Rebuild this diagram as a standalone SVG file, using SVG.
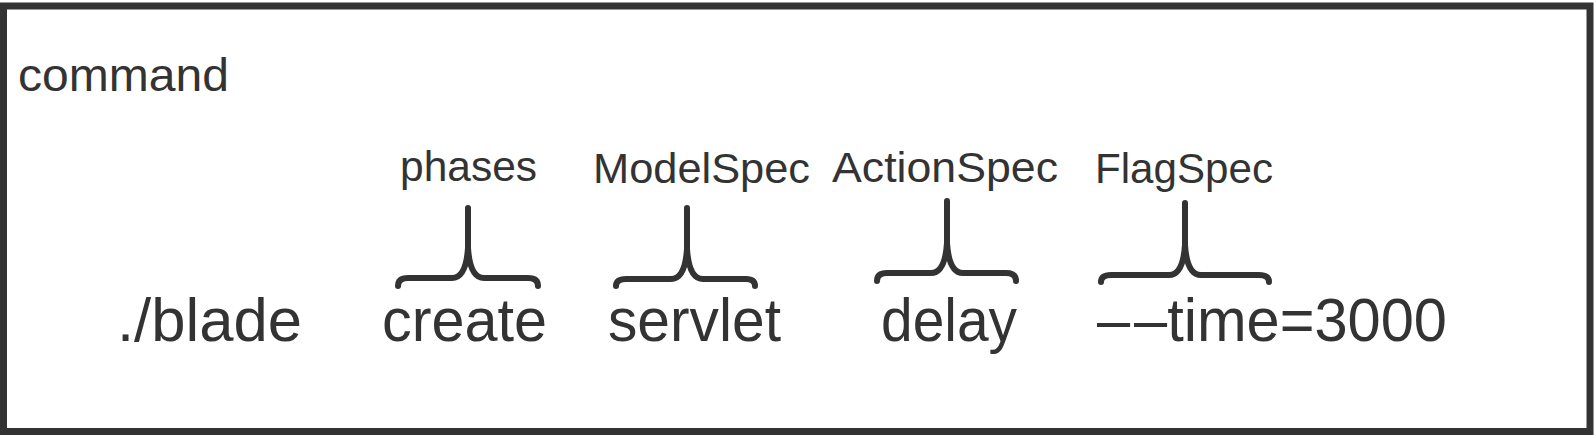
<svg xmlns="http://www.w3.org/2000/svg" width="1596" height="438" viewBox="0 0 1596 438">
  <style>
    .frame { fill: #ffffff; stroke: #333333; stroke-width: 7; }
    .t { font-family: "Liberation Sans", Arial, Helvetica, sans-serif; fill: #333333; }
    .title { font-size: 47px; }
    .label { font-size: 42px; }
    .word { font-size: 61px; }
    .brace { fill: none; stroke: #333333; stroke-width: 6; stroke-linecap: round; stroke-linejoin: round; }
  </style>
  <rect x="0" y="0" width="1596" height="438" fill="#ffffff"/>
  <g id="frame">
    <rect class="frame" x="3.5" y="6" width="1586.5" height="425.5"/>
    <text class="t title" x="18" y="91" textLength="211" lengthAdjust="spacingAndGlyphs">command</text>
  </g>
  <g id="node-blade">
    <text class="t word" x="117" y="341" textLength="185" lengthAdjust="spacingAndGlyphs">./blade</text>
  </g>
  <g id="node-create">
    <text class="t label" x="400" y="181" textLength="137" lengthAdjust="spacingAndGlyphs">phases</text>
    <text class="t word" x="382" y="341" textLength="165" lengthAdjust="spacingAndGlyphs">create</text>
  </g>
  <g id="node-servlet">
    <text class="t label" x="593" y="183" textLength="217" lengthAdjust="spacingAndGlyphs">ModelSpec</text>
    <text class="t word" x="608" y="341" textLength="173" lengthAdjust="spacingAndGlyphs">servlet</text>
  </g>
  <g id="node-delay">
    <text class="t label" x="832" y="182" textLength="226" lengthAdjust="spacingAndGlyphs">ActionSpec</text>
    <text class="t word" x="881" y="341" textLength="136" lengthAdjust="spacingAndGlyphs">delay</text>
  </g>
  <g id="node-time">
    <text class="t label" x="1095" y="183" textLength="178" lengthAdjust="spacingAndGlyphs">FlagSpec</text>
    <text class="t word" x="1097" y="341" textLength="350" lengthAdjust="spacingAndGlyphs"><tspan letter-spacing="4">–</tspan>–time=3000</text>
  </g>
  <g id="connectors">
    <path class="brace" d="M398,286 Q398,278 408,278 L452,278 Q466,278 468,248 L468,208 M468,248 Q470,278 484,278 L528,278 Q538,278 538,286"/>
    <path class="brace" d="M616,286 Q616,279 626,279 L671,279 Q685,279 687,249 L687,208 M687,249 Q689,279 703,279 L746,279 Q755,279 755,286"/>
    <path class="brace" d="M877,281 Q877,273 887,273 L931,273 Q945,273 947,243 L947,201 M947,243 Q949,273 963,273 L1006,273 Q1016,273 1016,281"/>
    <path class="brace" d="M1101,282 Q1101,275 1111,275 L1169,275 Q1183,275 1185,245 L1185,203 M1185,245 Q1187,275 1201,275 L1259,275 Q1269,275 1269,282"/>
  </g>
</svg>
